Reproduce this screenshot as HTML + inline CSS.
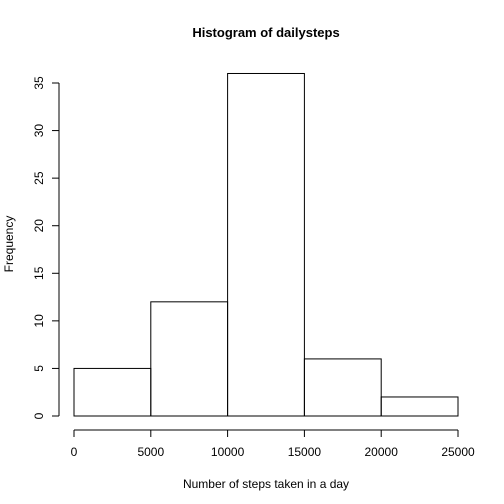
<!DOCTYPE html>
<html><head><meta charset="utf-8"><style>
body{margin:0;background:#fff}
svg{display:block;font-family:"Liberation Sans",Arial,sans-serif}
</style></head><body>
<svg id="chart" width="504" height="504" viewBox="0 0 504 504" xmlns="http://www.w3.org/2000/svg">
<rect width="504" height="504" fill="#fff"/>
<text x="266" y="37" text-anchor="middle" font-size="13" font-weight="bold">Histogram of dailysteps</text>
<text x="266" y="488" text-anchor="middle" font-size="12">Number of steps taken in a day</text>
<text transform="translate(13,244) rotate(-90)" text-anchor="middle" font-size="12">Frequency</text>
<g id="bars"></g>
<g id="xaxis"></g>
<g id="yaxis"></g>
</svg>
<script>
const binEdges = [0, 5000, 10000, 15000, 20000, 25000];
const counts = [5, 12, 36, 6, 2];
const xTicks = [0, 5000, 10000, 15000, 20000, 25000];
const yTicks = [0, 5, 10, 15, 20, 25, 30, 35];
const NS = 'http://www.w3.org/2000/svg';
const sx = v => 74 + v * (384 / 25000);
const sy = v => 416 - v * (333 / 35);
function mk(tag, attrs, parent) {
  const e = document.createElementNS(NS, tag);
  for (const k in attrs) e.setAttribute(k, attrs[k]);
  parent.appendChild(e);
  return e;
}
const bars = document.getElementById('bars');
counts.forEach((c, i) => {
  const x0 = sx(binEdges[i]), x1 = sx(binEdges[i + 1]);
  const r = mk('rect', {x: x0, y: sy(c), width: x1 - x0, height: sy(0) - sy(c), fill: 'none', stroke: '#000', 'stroke-width': 1}, bars);
  
  
});
const xa = document.getElementById('xaxis');
mk('line', {x1: sx(xTicks[0]), x2: sx(xTicks[xTicks.length - 1]), y1: 430, y2: 430, stroke: '#000'}, xa);
xTicks.forEach(t => {
  mk('line', {x1: sx(t), x2: sx(t), y1: 430, y2: 437, stroke: '#000'}, xa);
  const tx = mk('text', {x: sx(t), y: 456, 'text-anchor': 'middle', 'font-size': 12}, xa);
  tx.textContent = t;
  
  
});
const ya = document.getElementById('yaxis');
mk('line', {x1: 59, x2: 59, y1: sy(yTicks[0]), y2: sy(yTicks[yTicks.length - 1]), stroke: '#000'}, ya);
yTicks.forEach(t => {
  mk('line', {x1: 52, x2: 59, y1: sy(t), y2: sy(t), stroke: '#000'}, ya);
  const tx = mk('text', {transform: `translate(43,${sy(t)}) rotate(-90)`, 'text-anchor': 'middle', 'font-size': 12}, ya);
  tx.textContent = t;
  
  
});
</script>
</body></html>
